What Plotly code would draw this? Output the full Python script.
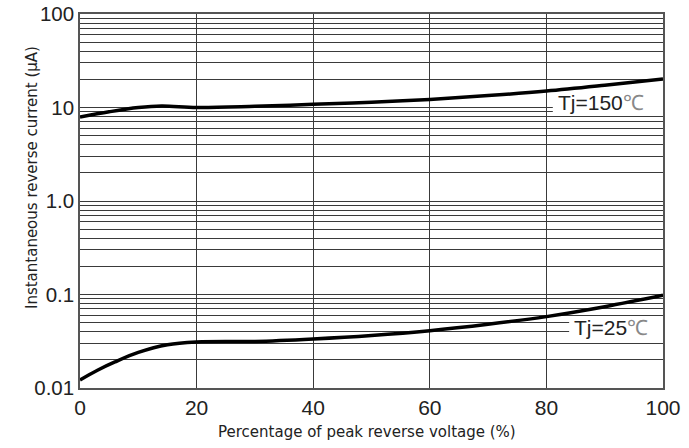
import plotly.graph_objects as go

x150 = [0, 5, 10, 14, 20, 30, 40, 50, 60, 70, 80, 90, 100]
y150 = [7.9, 9.0, 10.0, 10.4, 10.0, 10.3, 10.8, 11.4, 12.2, 13.4, 15.0, 17.3, 20.2]
x25 = [0, 3, 6, 10, 15, 20, 30, 40, 50, 60, 70, 80, 90, 100]
y25 = [0.0122, 0.0155, 0.019, 0.024, 0.029, 0.031, 0.0315, 0.0335, 0.0365, 0.041, 0.048, 0.058, 0.074, 0.098]

ytickvals = [0.01, 0.1, 1, 10, 100]
yticktext = ["0.01", "0.1", "1.0", "10", "100"]
xtickvals = [0, 20, 40, 60, 80, 100]

FONT = "Liberation Sans, Arial, sans-serif"
TFONT = "DejaVu Sans, sans-serif"
GRID = "#3a3a3a"

fig = go.Figure()
fig.add_trace(go.Scatter(x=x150, y=y150, mode="lines", hoverinfo="skip",
                         line=dict(color="black", width=3.5, shape="spline", smoothing=1.0)))
fig.add_trace(go.Scatter(x=x25, y=y25, mode="lines", hoverinfo="skip",
                         line=dict(color="black", width=3.5, shape="spline", smoothing=1.0)))

# white label backgrounds (above grid, below curves)
fig.add_shape(type="rect", xref="x", yref="y", x0=81.1, x1=100, y0=8.5, y1=14.8,
              fillcolor="white", line=dict(width=0), layer="between")
fig.add_shape(type="rect", xref="x", yref="y", x0=83.9, x1=100, y0=0.0339, y1=0.0543,
              fillcolor="white", line=dict(width=0), layer="between")

fig.add_annotation(x=81.6, y=1.053, xref="x", yref="y", xanchor="left", yanchor="middle",
                   text="Tj=150<span style='color:#888'>℃</span>", showarrow=False,
                   font=dict(family=FONT, size=21, color="#222"))
fig.add_annotation(x=84.4, y=-1.358, xref="x", yref="y", xanchor="left", yanchor="middle",
                   text="Tj=25<span style='color:#888'>℃</span>", showarrow=False,
                   font=dict(family=FONT, size=21, color="#222"))

# axis titles
fig.add_annotation(x=0.4923, y=-0.1176, xref="paper", yref="paper", xanchor="center", yanchor="middle",
                   text="Percentage of peak reverse voltage (%)", showarrow=False,
                   font=dict(family=TFONT, size=15, color="#222"))
fig.add_annotation(x=-0.0823, y=0.5615, xref="paper", yref="paper", xanchor="center", yanchor="middle",
                   text="Instantaneous reverse current (μA)", showarrow=False, textangle=-90,
                   font=dict(family=TFONT, size=15, color="#222"))

fig.update_layout(
    width=689, height=448,
    margin=dict(l=80, r=26, t=14, b=60),
    paper_bgcolor="white", plot_bgcolor="white",
    showlegend=False,
    font=dict(family=FONT, color="#222"),
    xaxis=dict(range=[0, 100], tickvals=xtickvals, showgrid=True, gridcolor=GRID, gridwidth=1,
               showline=True, linecolor="#555", linewidth=1.5, mirror=True, ticks="",
               zeroline=False, tickfont=dict(size=21, family=FONT), automargin=False,
               ticklabeloverflow="allow"),
    yaxis=dict(type="log", range=[-2, 2], tickvals=ytickvals, ticktext=yticktext,
               showgrid=True, gridcolor=GRID, gridwidth=1,
               minor=dict(dtick="D1", showgrid=True, gridcolor=GRID, gridwidth=1, ticks=""),
               showline=True, linecolor="#555", linewidth=1.5, mirror=True, ticks="",
               zeroline=False, tickfont=dict(size=20.5, family=FONT), ticklabelstandoff=0, automargin=False,
               ticklabeloverflow="allow"),
)

fig.write_html("out.html", config={"displayModeBar": False},
               post_script="document.body.style.margin='0';")
